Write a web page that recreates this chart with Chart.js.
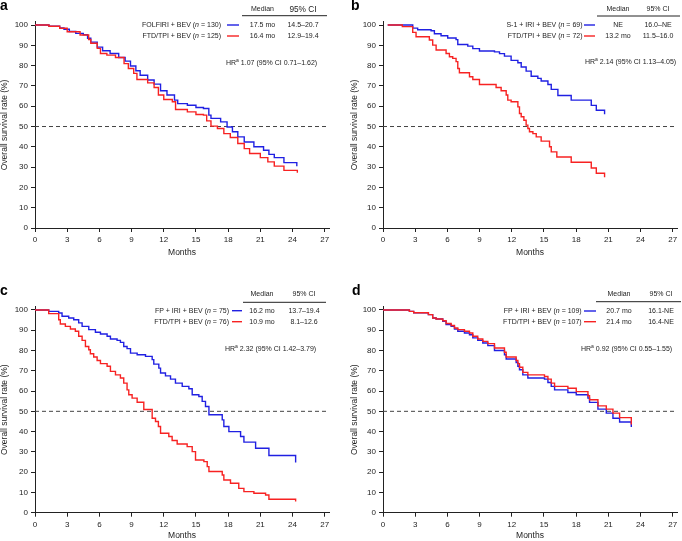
<!DOCTYPE html>
<html>
<head>
<meta charset="utf-8">
<script src="https://cdn.jsdelivr.net/npm/chart.js@4.4.1/dist/chart.umd.min.js"></script>
<style>
  html, body { margin: 0; padding: 0; background: #fff; }
  #wrap { position: relative; width: 682px; height: 541px; }
  #wrap canvas { position: absolute; }
</style>
</head>
<body>
<div id="wrap">
  <canvas id="pa" width="341" height="270" style="left:0;top:0"></canvas>
  <canvas id="pb" width="341" height="270" style="left:341px;top:0"></canvas>
  <canvas id="pc" width="341" height="271" style="left:0;top:270px"></canvas>
  <canvas id="pd" width="341" height="271" style="left:341px;top:270px"></canvas>
</div>
<script>
// ---- axes ----
const xTicks = [0, 3, 6, 9, 12, 15, 18, 21, 24, 27];
const yTicks = [0, 10, 20, 30, 40, 50, 60, 70, 80, 90, 100];
const medianLine = 50;

// ---- panel a : FOLFIRI + BEV vs FTD/TPI + BEV ----
const aBlueT = [0,1.3,2.3,2.7,3.2,3.8,4.5,4.9,5.2,5.8,6.3,7.0,7.8,8.4,8.9,9.4,9.8,10.5,11.1,11.7,12.3,13.0,13.3,14.2,15.0,15.7,16.2,16.4,17.3,17.9,18.4,18.9,19.5,20.4,21.3,21.8,22.3,23.2,24.4,24.4];
const aBlueS = [100,99.4,98.6,97.9,96.8,95.9,95.2,93.5,91.6,89.1,87.3,86,84,82.2,79.8,77.5,75.3,72.9,70.9,67.6,65.5,63,61.3,60.5,59.4,58.9,55.6,54,52.3,49.8,47.4,44.9,42.4,40,38.3,36.3,34.7,32.2,32.2,30.4];
const aRedT = [0,1.3,2.3,3.0,4.2,5.0,5.2,5.8,6.1,6.7,7.5,8.3,8.7,9.2,9.5,10.5,11.1,11.5,12.0,12.8,13.1,14.2,15.0,15.7,16.0,16.4,17.0,17.6,18.2,18.9,19.5,20.0,21.0,21.7,22.3,23.2,24.45,24.45];
const aRedS = [100,99.4,98.4,96.7,95.1,92.9,91,88.5,86,85.2,84,81,78.6,76.2,73.2,71.5,69.2,65.5,63.3,62.2,58.4,57.2,55.9,55.6,52.8,50.2,49,46.5,44.6,41.6,39.1,36.7,34.7,32.6,30.5,28.4,28.4,27.2];
const aArms = ['FOLFIRI + BEV', 'FTD/TPI + BEV'];
const aN = [130, 125];
const aMedian = ['17.5 mo', '16.4 mo'];
const aCI = ['14.5\u201320.7', '12.9\u201319.4'];
const aHR = '1.07 (95% CI 0.71\u20131.62)';

// ---- panel b : S-1 + IRI + BEV vs FTD/TPI + BEV ----
const bBlueT = [0.44,2.77,3.23,4.48,4.79,5.41,6.03,6.81,6.97,7.9,8.37,8.99,10.39,10.86,11.32,11.94,12.57,12.88,13.34,13.81,14.43,14.74,15.37,15.68,16.3,17.54,19.41,19.88,20.65,20.65];
const bBlueS = [100,98.5,97.7,97.2,95.7,94.7,93.6,92.8,90.4,89.6,88.4,87.2,86.8,85.9,84.7,82.6,81.4,79.3,77.3,74.8,73.7,72.4,70.7,68.3,65.3,63,60.4,58,58,56];
const bRedT = [0.44,1.8,2.77,3.08,4.32,4.63,4.95,5.88,6.19,6.5,6.81,6.97,7.12,8.06,8.37,8.99,10.54,11.01,11.48,11.63,11.94,12.57,12.72,12.88,13.13,13.34,13.5,13.65,13.97,14.28,14.74,15.52,15.68,16.2,17.54,19.41,19.88,20.65,20.65];
const bRedS = [100,99.2,96.4,94.2,92.6,90.1,87.7,86,84.4,83.6,82,78.6,76.5,74.5,73.2,70.7,69.2,67.6,65.5,63,62.2,59.7,56.4,54.8,53.1,50.7,49,47.4,46.5,44.9,42.8,40,37.5,35,32.4,29.6,27,27,25];
const bArms = ['S-1 + IRI + BEV', 'FTD/TPI + BEV'];
const bN = [69, 72];
const bMedian = ['NE', '13.2 mo'];
const bCI = ['16.0\u2013NE', '11.5\u201316.0'];
const bHR = '2.14 (95% CI 1.13\u20134.05)';

// ---- panel c : FP + IRI + BEV vs FTD/TPI + BEV ----
const cBlueT = [0,1.28,2.21,2.52,3.14,3.61,4.07,4.39,5.01,5.63,6.1,6.72,7.03,7.65,7.96,8.27,8.58,8.9,9.52,10.3,10.92,11.07,11.54,11.7,12.16,12.63,13.09,13.72,14.34,14.65,15.27,15.58,15.89,16.21,17.45,17.6,18.07,19.16,19.47,20.56,21.8,24.29,24.29];
const cBlueS = [100,99.3,98.5,96.9,96,95.2,93.6,91.9,90.3,89,88.1,87,85.7,85,84,82,80.9,78.7,77.9,77.1,75.5,73.3,71.3,68.9,67.5,65.9,63.9,62.3,61.1,58.2,57.3,54.9,52.4,48.3,45.8,42.5,40,37.6,34.8,31.8,28.2,28.2,24.7];
const cRedT = [0,1.28,2.21,2.36,2.83,3.3,3.76,4.07,4.39,4.7,5.01,5.16,5.47,5.79,6.1,6.72,7.03,7.5,7.96,8.27,8.58,8.74,9.05,9.52,10.14,10.92,11.23,11.5,11.7,12.47,12.78,13.25,14.18,14.65,14.96,15.74,16.05,16.21,17.45,17.6,18.22,18.99,19.47,20.4,21.49,21.8,24.29,24.29];
const cRedS = [100,98.2,95.2,93.1,91.9,90.6,89.5,87,85,82,80.4,78.4,76.8,75.1,73.5,72.2,69.7,68,66.4,63.9,60.6,58.2,56.5,54.5,50.9,46.6,45,42.5,39.2,37.6,35.6,33.9,32.6,30.1,26,25.2,22.7,20.3,18.6,16.1,14.5,12,10.4,9.6,8.7,6.6,6.6,5.5];
const cArms = ['FP + IRI + BEV', 'FTD/TPI + BEV'];
const cN = [75, 76];
const cMedian = ['16.2 mo', '10.9 mo'];
const cCI = ['13.7\u201319.4', '8.1\u201312.6'];
const cHR = '2.32 (95% CI 1.42\u20133.79)';

// ---- panel d : FP + IRI + BEV vs FTD/TPI + BEV ----
const dBlueT = [0,2.46,2.86,4.23,4.63,4.95,5.57,5.88,6.35,6.66,6.97,7.59,8.06,8.37,8.83,9.3,9.77,10.39,11.32,11.48,12.41,12.57,12.72,13.03,13.5,15.05,15.37,15.68,15.99,17.23,18.01,19.1,19.25,20.03,20.81,21.43,22.05,23.14,23.14];
const dBlueS = [100,99.3,98.6,97.7,96,95.5,94.4,92.8,91.9,90.6,89.5,88.6,87.8,86.2,85,83.7,82.4,80,77.9,75.8,74.1,72.2,70.5,68,66.4,65.9,64.2,62.3,60.6,59.3,58.2,56.5,54.4,51.1,49.1,46.6,44.7,44.7,42.3];
const dRedT = [0,2.46,2.86,4.23,4.63,4.95,5.57,5.88,6.35,6.66,6.97,7.59,8.06,8.37,8.83,9.3,9.77,10.39,11.32,11.48,12.41,12.57,12.72,13.03,13.5,15.05,15.37,15.68,15.99,17.23,18.01,19.1,19.25,20.03,20.81,21.43,22.05,23.14,23.14];
const dRedS = [100,99.3,98.6,97.7,96,95.5,94.7,93.3,92.3,91.1,90.3,89.5,88.6,87,85.7,84.5,83.4,81.2,79.1,76.8,75.1,73.5,71.7,69.2,68,67.2,65.9,63.9,62.3,61.4,59.7,57.7,55.7,52.7,51.1,49.1,46.9,46.9,43.5];
const dArms = ['FP + IRI + BEV', 'FTD/TPI + BEV'];
const dN = [109, 107];
const dMedian = ['20.7 mo', '21.4 mo'];
const dCI = ['16.1-NE', '16.4-NE'];
const dHR = '0.92 (95% CI 0.55\u20131.55)';

const FONT = '"Liberation Sans", Arial, Helvetica, sans-serif';
const BLUE = '#2020e2';
const RED = '#f72222';
const INK = '#1c1c1c';
const X_MAX = 27.4;
const Y_MAX = 101.6;

function steps(t, s) {
  return t.map((x, i) => ({ x: x, y: s[i] }));
}

// draws text made of pieces with different fonts: [text, font, dy]
function drawRich(ctx, parts, x, y, align) {
  let w = 0;
  parts.forEach(p => { ctx.font = p[1]; w += ctx.measureText(p[0]).width; });
  let cx = align === 'right' ? x - w : (align === 'center' ? x - w / 2 : x);
  ctx.textAlign = 'left';
  parts.forEach(p => {
    ctx.font = p[1];
    ctx.fillText(p[0], cx, y + (p[2] || 0));
    cx += ctx.measureText(p[0]).width;
  });
}

function tablePlugin(t) {
  return {
    id: 'kmTable',
    afterDraw(chart) {
      const ctx = chart.ctx;
      const f7 = '7px ' + FONT;
      const f7i = 'italic 7px ' + FONT;
      ctx.save();
      ctx.fillStyle = '#000';
      ctx.textBaseline = 'alphabetic';
      ctx.textAlign = 'left';
      ctx.font = 'bold 14px ' + FONT;
      ctx.fillText(t.letter, t.letterX, t.letterY);

      ctx.fillStyle = INK;
      ctx.textBaseline = 'middle';
      ctx.textAlign = 'center';
      ctx.font = f7;
      ctx.fillText('Median', t.medX, t.headY);
      ctx.font = t.ciSize + 'px ' + FONT;
      ctx.fillText('95% CI', t.ciX, t.headY);

      ctx.strokeStyle = '#222';
      ctx.lineWidth = 1;
      ctx.beginPath();
      ctx.moveTo(t.lineX0, t.lineY);
      ctx.lineTo(t.lineX1, t.lineY);
      ctx.stroke();

      const colors = [BLUE, RED];
      for (let i = 0; i < 2; i++) {
        const y = t.rowY[i];
        ctx.fillStyle = INK;
        drawRich(ctx, [[t.arms[i] + ' (', f7], ['n', f7i], [' = ' + t.n[i] + ')', f7]], t.labelR, y, 'right');
        ctx.textAlign = 'center';
        ctx.font = f7;
        ctx.fillText(t.median[i], t.medX, y);
        ctx.fillText(t.ci[i], t.ciX, y);
        ctx.strokeStyle = colors[i];
        ctx.lineWidth = 1.4;
        ctx.beginPath();
        ctx.moveTo(t.sampleX0, y);
        ctx.lineTo(t.sampleX1, y);
        ctx.stroke();
      }

      ctx.fillStyle = INK;
      drawRich(ctx, [['HR', f7], ['a', '5px ' + FONT, -2], [' ' + t.hr, f7]], t.hrX, t.hrY, 'left');
      ctx.restore();
    }
  };
}

function makePanel(id, g, blueT, blueS, redT, redS, tbl) {
  const canvas = document.getElementById(id);
  const W = canvas.width, H = canvas.height;
  const axisFont = { family: FONT, size: 8 };
  const titleFont = { family: FONT, size: 8.5 };
  new Chart(canvas, {
    type: 'line',
    data: {
      datasets: [
        { data: steps(redT, redS), borderColor: RED, borderWidth: 1.4, stepped: true, pointRadius: 0, fill: false },
        { data: steps(blueT, blueS), borderColor: BLUE, borderWidth: 1.4, stepped: true, pointRadius: 0, fill: false },
        { data: [{ x: 0, y: medianLine }, { x: X_MAX, y: medianLine }], borderColor: '#444', borderWidth: 1,
          borderDash: [4, 3], pointRadius: 0, fill: false }
      ]
    },
    options: {
      responsive: false,
      animation: false,
      layout: { padding: { left: 0, top: g.T, right: W - g.R, bottom: H - g.B - g.xh } },
      plugins: { legend: { display: false }, tooltip: { enabled: false } },
      scales: {
        x: {
          type: 'linear', min: 0, max: X_MAX,
          afterBuildTicks: sc => { sc.ticks = xTicks.map(v => ({ value: v })); },
          afterFit: sc => { sc.height = g.xh; },
          grid: { display: true, drawOnChartArea: false, drawTicks: true, tickLength: 4, tickColor: '#222', tickWidth: 1 },
          border: { display: true, color: '#222', width: 1 },
          ticks: { font: axisFont, color: INK, padding: 3, maxRotation: 0 },
          title: { display: true, text: 'Months', font: titleFont, color: INK, padding: { top: 0, bottom: 0 } }
        },
        y: {
          type: 'linear', min: 0, max: Y_MAX,
          afterBuildTicks: sc => { sc.ticks = yTicks.map(v => ({ value: v })); },
          afterFit: sc => { sc.width = g.L; },
          grid: { display: true, drawOnChartArea: false, drawTicks: true, tickLength: 4, tickColor: '#222', tickWidth: 1 },
          border: { display: true, color: '#222', width: 1 },
          ticks: { font: axisFont, color: INK, padding: 3 },
          title: { display: true, text: 'Overall survival rate (%)', font: titleFont, color: INK,
                   padding: { top: g.titlePad, bottom: 0 } }
        }
      }
    },
    plugins: [tablePlugin(tbl)]
  });
}

makePanel('pa', { L: 35, R: 329, T: 21.8, B: 228, xh: 30, titlePad: 0 },
  aBlueT, aBlueS, aRedT, aRedS,
  { letter: 'a', letterX: 0, letterY: 10, headY: 9.3, lineY: 15.7, lineX0: 242, lineX1: 327,
    medX: 262.5, ciX: 303, ciSize: 8.3, rowY: [25, 36], labelR: 221, sampleX0: 227, sampleX1: 239,
    hrX: 226, hrY: 62.7, arms: aArms, n: aN, median: aMedian, ci: aCI, hr: aHR });

makePanel('pb', { L: 42, R: 336, T: 21.8, B: 228, xh: 30, titlePad: 9 },
  bBlueT, bBlueS, bRedT, bRedS,
  { letter: 'b', letterX: 10, letterY: 10, headY: 9.3, lineY: 16, lineX0: 256, lineX1: 339,
    medX: 277, ciX: 317, ciSize: 7, rowY: [25, 36], labelR: 241.5, sampleX0: 243, sampleX1: 254,
    hrX: 244, hrY: 62, arms: bArms, n: bN, median: bMedian, ci: bCI, hr: bHR });

makePanel('pc', { L: 35, R: 329, T: 36.7, B: 242.7, xh: 28, titlePad: 0 },
  cBlueT, cBlueS, cRedT, cRedS,
  { letter: 'c', letterX: 0, letterY: 25, headY: 24, lineY: 32.3, lineX0: 243, lineX1: 326,
    medX: 262, ciX: 304, ciSize: 7, rowY: [40.7, 51.7], labelR: 229, sampleX0: 232, sampleX1: 242,
    hrX: 225, hrY: 79, arms: cArms, n: cN, median: cMedian, ci: cCI, hr: cHR });

makePanel('pd', { L: 42, R: 336, T: 36.7, B: 242.7, xh: 28, titlePad: 9 },
  dBlueT, dBlueS, dRedT, dRedS,
  { letter: 'd', letterX: 11, letterY: 25, headY: 24, lineY: 31.7, lineX0: 255, lineX1: 340,
    medX: 278, ciX: 320, ciSize: 7, rowY: [41, 51.7], labelR: 240.7, sampleX0: 243, sampleX1: 255,
    hrX: 240, hrY: 79, arms: dArms, n: dN, median: dMedian, ci: dCI, hr: dHR });
</script>
</body>
</html>
